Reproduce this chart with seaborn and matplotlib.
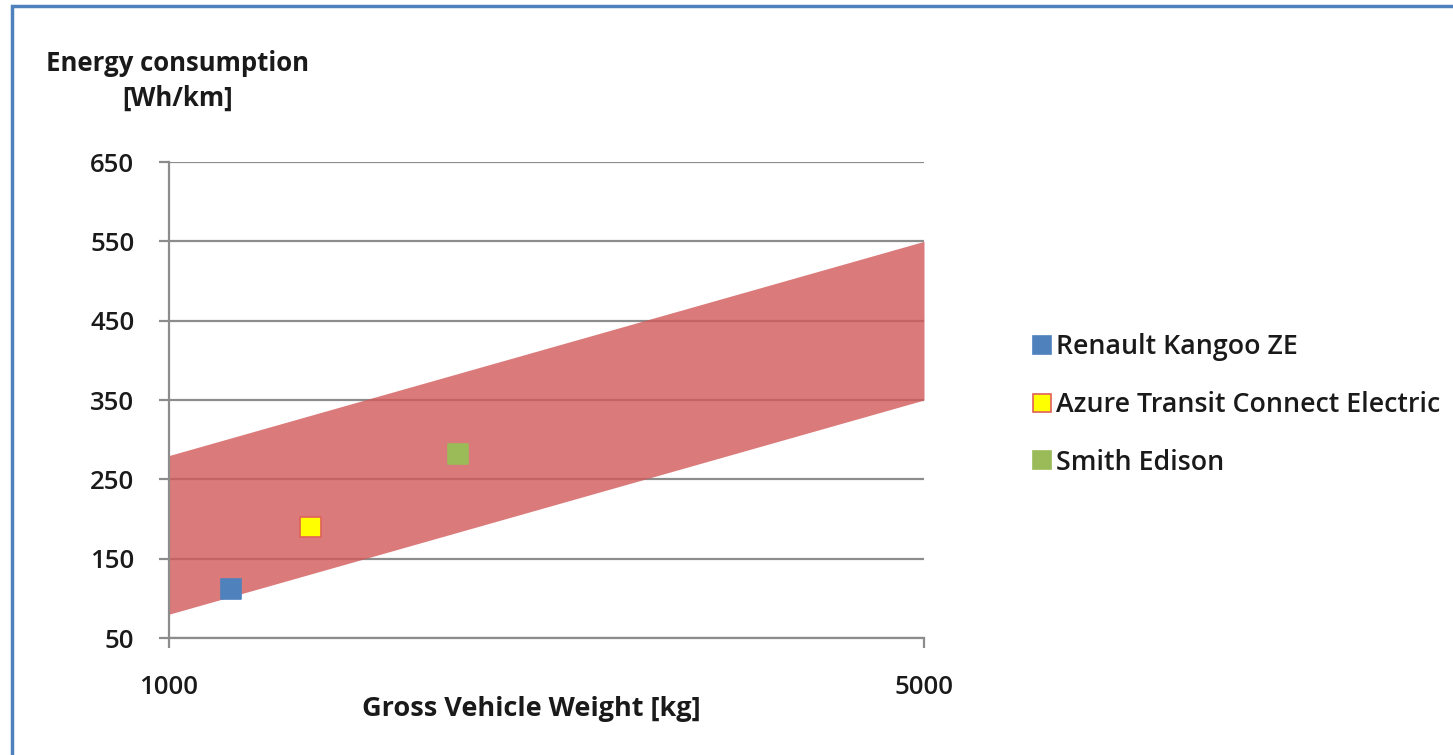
import pandas as pd
import matplotlib.pyplot as plt
import seaborn as sns
from matplotlib.lines import Line2D
from matplotlib.patches import Rectangle

# Data
vehicles = ["Renault Kangoo ZE", "Azure Transit Connect Electric", "Smith Edison"]
weight_kg = [1330, 1750, 2530]
energy_wh_km = [112, 190, 282]
marker_colors = ["#4F81BD", "#FFFF00", "#9BBB59"]
marker_edges = ["#4F81BD", "#E0605A", "#9BBB59"]

band_x = [1000, 5000]
band_low = [80, 350]
band_high = [280, 550]

y_ticks = [50, 150, 250, 350, 450, 550, 650]
x_ticks = [1000, 5000]

sns.set_style("white")
plt.rcParams['font.family'] = ['Open Sans', 'DejaVu Sans']

FS = 18.5
TXT = "#1a1a1a"

df = pd.DataFrame({"vehicle": vehicles, "weight": weight_kg, "energy": energy_wh_km})

fig = plt.figure(figsize=(14.53, 7.55), dpi=100)
ax = fig.add_axes([169 / 1453, 1 - 638 / 755, (924 - 169) / 1453, (638 - 162) / 755])

# Band
ax.fill_between(band_x, band_low, band_high, color="#D35959", alpha=0.8, linewidth=0, zorder=2)

# Vehicles
sns.scatterplot(data=df, x="weight", y="energy", hue="vehicle", palette=marker_colors,
                marker="s", s=210, ax=ax, legend=False, zorder=3, linewidth=0)
for coll in ax.collections[1:]:
    coll.set_edgecolor(marker_edges)
    coll.set_linewidth(1.2)

ax.set_xlim(1000, 5000)
ax.set_ylim(50, 650)
ax.set_xticks(x_ticks)
ax.set_yticks(y_ticks)
ax.set_xlabel("")
ax.set_ylabel("")

ax.grid(axis="y", color="#8C8C8C", linewidth=1.6)
ax.grid(axis="x", visible=False)
ax.set_axisbelow(True)

for side in ["top", "right"]:
    ax.spines[side].set_visible(False)
for side in ["left", "bottom"]:
    ax.spines[side].set_color("#8C8C8C")
    ax.spines[side].set_linewidth(1.6)

ax.tick_params(axis="y", length=7, width=1.6, color="#8C8C8C", pad=18, labelsize=FS, labelcolor=TXT, left=True)
ax.tick_params(axis="x", length=7, width=1.6, color="#8C8C8C", pad=20, labelsize=FS, labelcolor=TXT, bottom=True)
for lab in ax.get_xticklabels() + ax.get_yticklabels():
    lab.set_fontweight("semibold")

# Titles
fig.text(178 / 1453, 1 - 81 / 755, "Energy consumption\n[Wh/km]", ha="center", va="center",
         fontsize=FS, fontweight="bold", color=TXT, linespacing=1.35)
fig.text(531 / 1453, 1 - 709 / 755, "Gross Vehicle Weight [kg]", ha="center", va="center",
         fontsize=19.5, fontweight="bold", color=TXT)

# Legend
handles = [Line2D([0], [0], marker="s", linestyle="", markersize=13,
                  markerfacecolor=c, markeredgecolor=e, markeredgewidth=1.2)
           for c, e in zip(marker_colors, marker_edges)]
leg = fig.legend(handles, vehicles, loc="center left", bbox_to_anchor=(1021 / 1453, 1 - 405 / 755),
                 frameon=False, fontsize=19.3, handlelength=0.75, handletextpad=0.15,
                 labelspacing=1.11, borderaxespad=0)
for t in leg.get_texts():
    t.set_fontweight("semibold")
    t.set_color(TXT)

# Blue outer frame
fig.patches.append(Rectangle((12 / 1453, -0.1), 1.2, 1 - 6 / 755 + 0.1, transform=fig.transFigure,
                             fill=False, edgecolor="#4F81BD", linewidth=2.5))

plt.savefig("out.png", dpi=100)
plt.close()
